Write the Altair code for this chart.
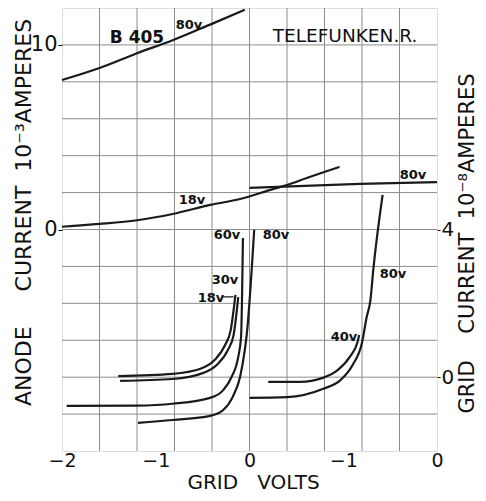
import altair as alt
import pandas as pd

FONT = "DejaVu Sans"
NB = "\u00a0"

# ---- anode current curves (x: grid volts position, y: 10^-3 A) ----
a80_x = [-2.0, -1.6, -1.2, -0.82, -0.42, -0.05]
a80_y = [8.1, 8.75, 9.55, 10.25, 11.1, 11.9]
a18_x = [-2.0, -1.6, -1.2, -0.82, -0.42, -0.1, 0.25, 0.4, 0.61, 0.96]
a18_y = [0.15, 0.3, 0.5, 0.84, 1.33, 1.65, 2.19, 2.41, 2.79, 3.39]
a80m_x = [0.0, 1.18, 2.0]
a80m_y = [2.25, 2.47, 2.57]

# ---- grid current curves (y: 10^-8 A) ----
g30_x = [-1.40, -0.82, -0.53, -0.37, -0.26, -0.20, -0.15]
g30_y = [0.03, 0.09, 0.22, 0.47, 0.87, 1.28, 2.23]
g18_x = [-1.38, -0.82, -0.50, -0.35, -0.23, -0.17, -0.12]
g18_y = [-0.10, -0.05, 0.11, 0.33, 0.74, 1.14, 2.17]
g60_x = [-1.95, -1.2, -0.82, -0.42, -0.28, -0.19, -0.12, -0.09, -0.07]
g60_y = [-0.78, -0.77, -0.72, -0.56, -0.35, 0.01, 0.55, 1.09, 3.77]
g80l_x = [-1.19, -0.82, -0.42, -0.28, -0.18, -0.10, -0.05, -0.03, 0.05]
g80l_y = [-1.24, -1.16, -1.05, -0.89, -0.54, 0.01, 0.74, 1.14, 3.99]
g40_x = [0.20, 0.54, 0.78, 0.94, 1.07, 1.15, 1.17]
g40_y = [-0.13, -0.13, -0.02, 0.19, 0.55, 0.93, 1.14]
g80r_x = [0.0, 0.4, 0.78, 0.97, 1.10, 1.20, 1.25, 1.29, 1.32, 1.42]
g80r_y = [-0.56, -0.54, -0.32, -0.08, 0.33, 0.93, 1.63, 2.09, 2.90, 4.94]

# ---- labels (anode scale) ----
lab_text = ["80v", "18v", "60v", "80v", "80v", "30v", "18v", "80v", "40v"]
lab_x = [-0.645, -0.613, -0.24, 0.283, 1.744, -0.261, -0.41, 1.53, 1.008]
lab_y = [11.08, 1.6, -0.30, -0.30, 2.95, -2.73, -3.71, -2.41, -5.82]
title_text = ["B 405", "TELEFUNKEN.R."]
title_x = [-1.2, 1.019]
title_y = [10.37, 10.48]
lead_x = [-0.29]
lead_x2 = [-0.17]
lead_y = [-3.65]

x_ticks = [-2, -1, 0, 1, 2]
x_grid = [-1.6, -1.2, -0.8, -0.4, 0.0, 0.4, 0.8, 1.2, 1.6]
y_grid = [-10, -8, -6, -4, -2, 0, 2, 4, 6, 8, 10]


def frame(xs, ys, name):
    return pd.DataFrame({"x": xs, "y": ys, "curve": name, "o": list(range(len(xs)))})


anode = pd.concat([frame(a80_x, a80_y, "a80"), frame(a18_x, a18_y, "a18"),
                   frame(a80m_x, a80m_y, "a80m")])
gridc = pd.concat([frame(g30_x, g30_y, "g30"), frame(g18_x, g18_y, "g18"),
                   frame(g60_x, g60_y, "g60"), frame(g80l_x, g80l_y, "g80l"),
                   frame(g40_x, g40_y, "g40"), frame(g80r_x, g80r_y, "g80r")])

xscale = alt.Scale(domain=[-2, 2], nice=False, zero=False)
yl_scale = alt.Scale(domain=[-12, 12], nice=False, zero=False)
yr_scale = alt.Scale(domain=[-2, 10], nice=False, zero=False)

x_axis = alt.Axis(
    values=x_ticks,
    labelExpr="datum.value == -2 ? '\u22122' : (datum.value == -1 || datum.value == 1) ? '\u22121' : '0'",
    grid=False, domain=False, ticks=False, labelFlush=False, labelOverlap=False,
    labelFont=FONT, labelFontSize=19, labelColor="#111", labelPadding=0,
    title="GRID" + NB * 3 + "VOLTS", titleFont=FONT, titleFontSize=20,
    titleFontWeight="normal", titleColor="#111",
    titleX=191, titleY=31, titleBaseline="middle", titleAlign="center",
)
yl_axis = alt.Axis(
    values=[0, 10], grid=False, domain=False, tickSize=4, tickColor="#111",
    labelFlush=False, labelFont=FONT, labelFontSize=21, labelColor="#111", labelPadding=1,
    title="ANODE" + NB * 5 + "CURRENT" + NB * 2 + "10\u207b\u00b3AMPERES",
    titleFont=FONT, titleFontSize=22, titleFontWeight="normal", titleColor="#111",
    titleAngle=270, titleX=-39, titleY=204, titleBaseline="middle", titleAlign="center",
)
yr_axis = alt.Axis(
    orient="right", values=[0, 4], grid=False, domain=False, tickSize=3, tickColor="#111",
    labelFlush=False, labelFont=FONT, labelFontSize=20, labelColor="#111", labelPadding=1,
    title="GRID" + NB * 4 + "CURRENT" + NB * 2 + "10\u207b\u2078AMPERES",
    titleFont=FONT, titleFontSize=21, titleFontWeight="normal", titleColor="#111",
    titleAngle=270, titleX=30, titleY=235, titleBaseline="middle", titleAlign="center",
)

X = alt.X("x:Q", scale=xscale, axis=x_axis)
YL = alt.Y("y:Q", scale=yl_scale, axis=yl_axis)

vgrid = alt.Chart(pd.DataFrame({"x": x_grid})).mark_rule(color="#8c8c8c", strokeWidth=1).encode(x=X)
hgrid = alt.Chart(pd.DataFrame({"y": y_grid})).mark_rule(color="#8c8c8c", strokeWidth=1).encode(y=YL)

anode_lines = alt.Chart(anode).mark_line(
    color="#1a1a1a", strokeWidth=2.2, interpolate="monotone"
).encode(x=X, y=YL, detail="curve:N", order="o:Q")

labels = alt.Chart(pd.DataFrame({"x": lab_x, "y": lab_y, "t": lab_text})).mark_text(
    font=FONT, fontSize=13, fontWeight="bold", color="#111"
).encode(x=X, y=YL, text="t:N")

titles_df = pd.DataFrame({"x": title_x, "y": title_y, "t": title_text})
b405 = alt.Chart(titles_df.iloc[[0]]).mark_text(
    font=FONT, fontSize=17, fontWeight="bold", color="#111"
).encode(x=X, y=YL, text="t:N")
telef = alt.Chart(titles_df.iloc[[1]]).mark_text(
    font=FONT, fontSize=18.5, fontWeight="normal", color="#111"
).encode(x=X, y=YL, text="t:N")

leader = alt.Chart(pd.DataFrame({"x": lead_x, "x2": lead_x2, "y": lead_y})).mark_rule(
    color="#111", strokeWidth=1.2
).encode(x=X, x2="x2:Q", y=YL)

left_group = alt.layer(vgrid, hgrid, anode_lines, labels, b405, telef, leader)

grid_lines = alt.Chart(gridc).mark_line(
    color="#1a1a1a", strokeWidth=2.2, interpolate="monotone"
).encode(x=X, y=alt.Y("y:Q", scale=yr_scale, axis=yr_axis), detail="curve:N", order="o:Q")

chart = alt.layer(left_group, grid_lines).resolve_scale(y="independent").properties(
    width=375, height=443,
    padding={"left": 54, "top": 0, "right": 41, "bottom": 42},
    autosize=alt.AutoSizeParams(type="none"),
).configure_view(stroke="#111", strokeWidth=1.5).configure(background="white")

chart.save("out.html", embed_options={"renderer": "svg", "actions": False})
